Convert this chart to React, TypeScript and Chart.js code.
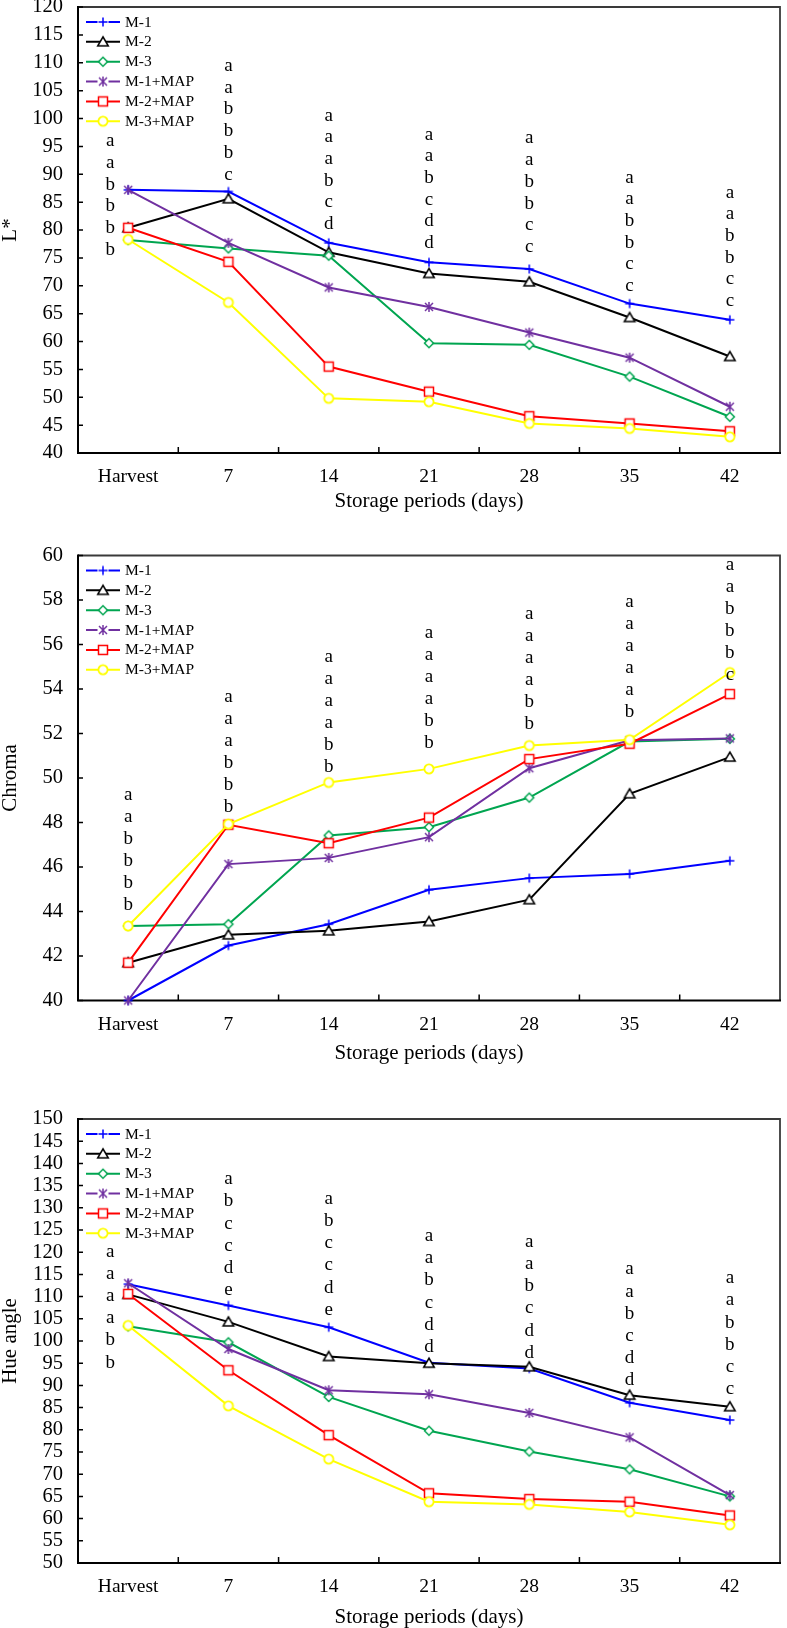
import React, { useEffect, useRef } from "react";
import { Chart, registerables } from "chart.js";

Chart.register(...registerables);

const SERIF = '"Liberation Serif", "Times New Roman", Times, serif';

// Shared categories and series
const periods = ["Harvest", "7", "14", "21", "28", "35", "42"];
const seriesNames = ["M-1", "M-2", "M-3", "M-1+MAP", "M-2+MAP", "M-3+MAP"];
const seriesColors = ["#0000FF", "#000000", "#00A550", "#7030A0", "#FF0000", "#FFFF00"];
const seriesMarkers = ["plus", "triangle", "diamond", "asterisk", "square", "circle"];

// L*
const lStarM1 = [87.2, 86.9, 77.7, 74.2, 73.0, 66.8, 63.9];
const lStarM2 = [80.4, 85.6, 76.0, 72.2, 70.7, 64.3, 57.3];
const lStarM3 = [78.2, 76.7, 75.4, 59.7, 59.4, 53.7, 46.5];
const lStarM1Map = [87.2, 77.7, 69.7, 66.2, 61.6, 57.1, 48.3];
const lStarM2Map = [80.4, 74.3, 55.5, 51.0, 46.6, 45.3, 43.9];
const lStarM3Map = [78.3, 67.0, 49.8, 49.2, 45.3, 44.4, 42.9];
const lStarLetters = ["aabbbb", "aabbbc", "aaabcd", "aabcdd", "aabbcc", "aabbcc", "aabbcc"];
const lStarLetterTop = [95.8, 109.3, 100.4, 97.0, 96.3, 89.3, 86.6];
const lStarAxis = { min: 40, max: 120, step: 5 };

// Chroma
const chromaM1 = [40.0, 42.47, 43.43, 44.98, 45.5, 45.69, 46.28];
const chromaM2 = [41.7, 42.95, 43.13, 43.55, 44.53, 49.29, 50.94];
const chromaM3 = [43.35, 43.43, 47.42, 47.79, 49.12, 51.64, 51.76];
const chromaM1Map = [40.0, 46.13, 46.41, 47.34, 50.44, 51.7, 51.78];
const chromaM2Map = [41.7, 47.9, 47.07, 48.22, 50.85, 51.54, 53.77];
const chromaM3Map = [43.35, 47.93, 49.8, 50.41, 51.46, 51.72, 54.74];
const chromaLetters = ["aabbbb", "aaabbb", "aaaabb", "aaaabb", "aaaabb", "aaaaab", "aabbbc"];
const chromaLetterTop = [49.2, 53.62, 55.39, 56.47, 57.33, 57.86, 59.55];
const chromaAxis = { min: 40, max: 60, step: 2 };

// Hue angle
const hueM1 = [112.8, 108.0, 103.1, 95.1, 93.8, 86.1, 82.2];
const hueM2 = [110.5, 104.3, 96.5, 95.0, 94.2, 87.8, 85.2];
const hueM3 = [103.3, 99.7, 87.4, 79.8, 75.1, 71.1, 65.0];
const hueM1Map = [113.0, 98.2, 88.9, 88.0, 83.8, 78.3, 65.3];
const hueM2Map = [110.6, 93.4, 78.8, 65.7, 64.4, 63.8, 60.7];
const hueM3Map = [103.5, 85.4, 73.4, 63.8, 63.2, 61.5, 58.6];
const hueLetters = ["aaaabb", "abccde", "abccde", "aabcdd", "aabcdd", "aabcdd", "aabbcc"];
const hueLetterTop = [120.0, 136.3, 131.9, 123.5, 122.2, 116.0, 114.0];
const hueAxis = { min: 50, max: 150, step: 5 };

const xTitle = "Storage periods (days)";

type Panel = {
  yTitle: string;
  series: number[][];
  letters: string[];
  letterTop: number[];
  axis: { min: number; max: number; step: number };
  canvasTop: number;
  canvasHeight: number;
  plotTop: number;
  plotBottom: number;
  letterGap: number;
  harvestShift: number;
};

const panels: Panel[] = [
  {
    yTitle: "L*",
    series: [lStarM1, lStarM2, lStarM3, lStarM1Map, lStarM2Map, lStarM3Map],
    letters: lStarLetters,
    letterTop: lStarLetterTop,
    axis: lStarAxis,
    canvasTop: 0,
    canvasHeight: 512,
    plotTop: 7,
    plotBottom: 453,
    letterGap: 21.7,
    harvestShift: -18,
  },
  {
    yTitle: "Chroma",
    series: [chromaM1, chromaM2, chromaM3, chromaM1Map, chromaM2Map, chromaM3Map],
    letters: chromaLetters,
    letterTop: chromaLetterTop,
    axis: chromaAxis,
    canvasTop: 540,
    canvasHeight: 524,
    plotTop: 555.5,
    plotBottom: 1000.5,
    letterGap: 22,
    harvestShift: 0,
  },
  {
    yTitle: "Hue angle",
    series: [hueM1, hueM2, hueM3, hueM1Map, hueM2Map, hueM3Map],
    letters: hueLetters,
    letterTop: hueLetterTop,
    axis: hueAxis,
    canvasTop: 1100,
    canvasHeight: 528,
    plotTop: 1119,
    plotBottom: 1563,
    letterGap: 22.2,
    harvestShift: -18,
  },
];

const WIDTH = 787;
const PLOT_LEFT = 78;
const PLOT_RIGHT = 785;

function makeMarker(kind: string, color: string): HTMLCanvasElement {
  const c = document.createElement("canvas");
  c.width = 16;
  c.height = 16;
  const g = c.getContext("2d")!;
  g.translate(8, 8);
  g.strokeStyle = color;
  g.fillStyle = "#ffffff";
  g.lineWidth = 1.5;
  g.beginPath();
  switch (kind) {
    case "plus":
      g.moveTo(-4.5, 0);
      g.lineTo(4.5, 0);
      g.moveTo(0, -4.5);
      g.lineTo(0, 4.5);
      g.stroke();
      break;
    case "triangle":
      g.moveTo(0, -5);
      g.lineTo(5.3, 4);
      g.lineTo(-5.3, 4);
      g.closePath();
      g.fill();
      g.stroke();
      break;
    case "diamond":
      g.moveTo(0, -4.5);
      g.lineTo(4.5, 0);
      g.lineTo(0, 4.5);
      g.lineTo(-4.5, 0);
      g.closePath();
      g.fill();
      g.stroke();
      break;
    case "asterisk":
      g.moveTo(-4, -4);
      g.lineTo(4, 4);
      g.moveTo(4, -4);
      g.lineTo(-4, 4);
      g.moveTo(0, -5);
      g.lineTo(0, 5);
      g.stroke();
      break;
    case "square":
      g.rect(-4.5, -4.5, 9, 9);
      g.fill();
      g.stroke();
      break;
    default:
      g.lineWidth = 1.8;
      g.arc(0, 0, 4.6, 0, Math.PI * 2);
      g.fill();
      g.stroke();
  }
  return c;
}

function PanelChart({ panel }: { panel: Panel }) {
  const ref = useRef<HTMLCanvasElement | null>(null);

  useEffect(() => {
    const canvas = ref.current;
    if (!canvas) return;
    const markers = seriesMarkers.map((m, i) => makeMarker(m, seriesColors[i]));
    const xAxisHeight = panel.canvasTop + panel.canvasHeight - panel.plotBottom;

    const framePlugin = {
      id: "frame",
      beforeDatasetsDraw(chart: any) {
        const { ctx, chartArea: a, scales } = chart;
        const y = scales.y;
        const x = scales.x;
        ctx.save();
        ctx.lineWidth = 1.8;
        ctx.strokeStyle = "#3a3a3a";
        ctx.beginPath();
        ctx.moveTo(a.left, a.top);
        ctx.lineTo(a.right, a.top);
        ctx.lineTo(a.right, a.bottom);
        ctx.stroke();
        ctx.strokeStyle = "#000";
        ctx.lineWidth = 2;
        ctx.beginPath();
        ctx.moveTo(a.left, a.top - 1);
        ctx.lineTo(a.left, a.bottom);
        ctx.lineTo(a.right + 1, a.bottom);
        ctx.stroke();
        // inside tick marks
        ctx.lineWidth = 1.5;
        ctx.beginPath();
        for (let v = panel.axis.min; v <= panel.axis.max; v += panel.axis.step) {
          const py = y.getPixelForValue(v);
          ctx.moveTo(a.left, py);
          ctx.lineTo(a.left + 5, py);
        }
        for (let i = 1; i < periods.length; i++) {
          const px = (x.getPixelForValue(i - 1) + x.getPixelForValue(i)) / 2;
          ctx.moveTo(px, a.bottom);
          ctx.lineTo(px, a.bottom - 6);
        }
        ctx.stroke();
        ctx.restore();
      },
      afterDatasetsDraw(chart: any) {
        const { ctx, chartArea: a, scales } = chart;
        ctx.save();
        // significance letters
        const fs = 19;
        ctx.font = `${fs}px ${SERIF}`;
        ctx.fillStyle = "#000";
        ctx.textAlign = "center";
        ctx.textBaseline = "alphabetic";
        panel.letters.forEach((str, i) => {
          const px = scales.x.getPixelForValue(i) + (i === 0 ? panel.harvestShift : 0);
          const top = scales.y.getPixelForValue(panel.letterTop[i]);
          str.split("").forEach((ch, j) => {
            ctx.fillText(ch, px, top + j * panel.letterGap + 0.23 * fs);
          });
        });
        // legend
        ctx.font = `15.5px ${SERIF}`;
        ctx.textAlign = "left";
        ctx.textBaseline = "middle";
        seriesNames.forEach((name, i) => {
          const ly = a.top + 15 + i * 19.85;
          const x0 = a.left + 8;
          const x1 = a.left + 42;
          const mx = a.left + 25;
          ctx.strokeStyle = seriesColors[i];
          ctx.lineWidth = 2;
          ctx.beginPath();
          if (seriesMarkers[i] === "plus" || seriesMarkers[i] === "asterisk") {
            ctx.moveTo(x0, ly);
            ctx.lineTo(mx - 5.5, ly);
            ctx.moveTo(mx + 5.5, ly);
            ctx.lineTo(x1, ly);
          } else {
            ctx.moveTo(x0, ly);
            ctx.lineTo(x1, ly);
          }
          ctx.stroke();
          ctx.drawImage(markers[i], mx - 8, ly - 8);
          ctx.fillStyle = "#000";
          ctx.fillText(name, a.left + 47, ly + 0.5);
        });
        ctx.restore();
      },
    };

    const chart = new Chart(canvas, {
      type: "line",
      data: {
        labels: periods,
        datasets: panel.series.map((values, i) => ({
          label: seriesNames[i],
          data: values,
          borderColor: seriesColors[i],
          backgroundColor: seriesColors[i],
          borderWidth: 2,
          pointStyle: markers[i] as any,
          pointRadius: 5,
          pointHoverRadius: 5,
          tension: 0,
          clip: false as any,
          order: 10 - i,
        })),
      },
      options: {
        animation: false,
        responsive: false,
        maintainAspectRatio: false,
        events: [],
        layout: {
          padding: { top: panel.plotTop - panel.canvasTop, right: WIDTH - PLOT_RIGHT, left: 0, bottom: 0 },
        },
        plugins: {
          legend: { display: false },
          tooltip: { enabled: false },
        },
        scales: {
          x: {
            type: "category",
            offset: true,
            grid: { display: false, drawTicks: false },
            border: { display: false },
            ticks: {
              color: "#000",
              font: { family: SERIF, size: 19.5 },
              padding: 12.5,
              maxRotation: 0,
              autoSkip: false,
            },
            title: {
              display: true,
              text: xTitle,
              color: "#000",
              font: { family: SERIF, size: 21, lineHeight: 1.2 },
              padding: { top: 0, bottom: -2 },
            },
            afterFit(s: any) {
              s.height = xAxisHeight;
              s.paddingLeft = 0;
              s.paddingRight = 0;
            },
          },
          y: {
            min: panel.axis.min,
            max: panel.axis.max,
            grid: { display: false, drawTicks: false },
            border: { display: false },
            ticks: {
              stepSize: panel.axis.step,
              autoSkip: false,
              color: "#000",
              font: { family: SERIF, size: 20.5 },
              padding: 15,
            },
            title: {
              display: true,
              text: panel.yTitle,
              color: "#000",
              font: { family: SERIF, size: 21, lineHeight: 1 },
              padding: { top: 0, bottom: 0 },
            },
            afterFit(s: any) {
              s.width = PLOT_LEFT;
              s.paddingTop = 0;
              s.paddingBottom = 0;
            },
          },
        },
      } as any,
      plugins: [framePlugin],
    });
    return () => chart.destroy();
  }, [panel]);

  return (
    <canvas
      ref={ref}
      width={WIDTH}
      height={panel.canvasHeight}
      style={{ position: "absolute", left: 0, top: panel.canvasTop, width: WIDTH, height: panel.canvasHeight }}
    />
  );
}

export default function App() {
  return (
    <div style={{ position: "absolute", left: 0, top: 0, width: WIDTH, height: 1628, background: "#fff", overflow: "hidden" }}>
      {panels.map((p, i) => (
        <PanelChart key={i} panel={p} />
      ))}
    </div>
  );
}
